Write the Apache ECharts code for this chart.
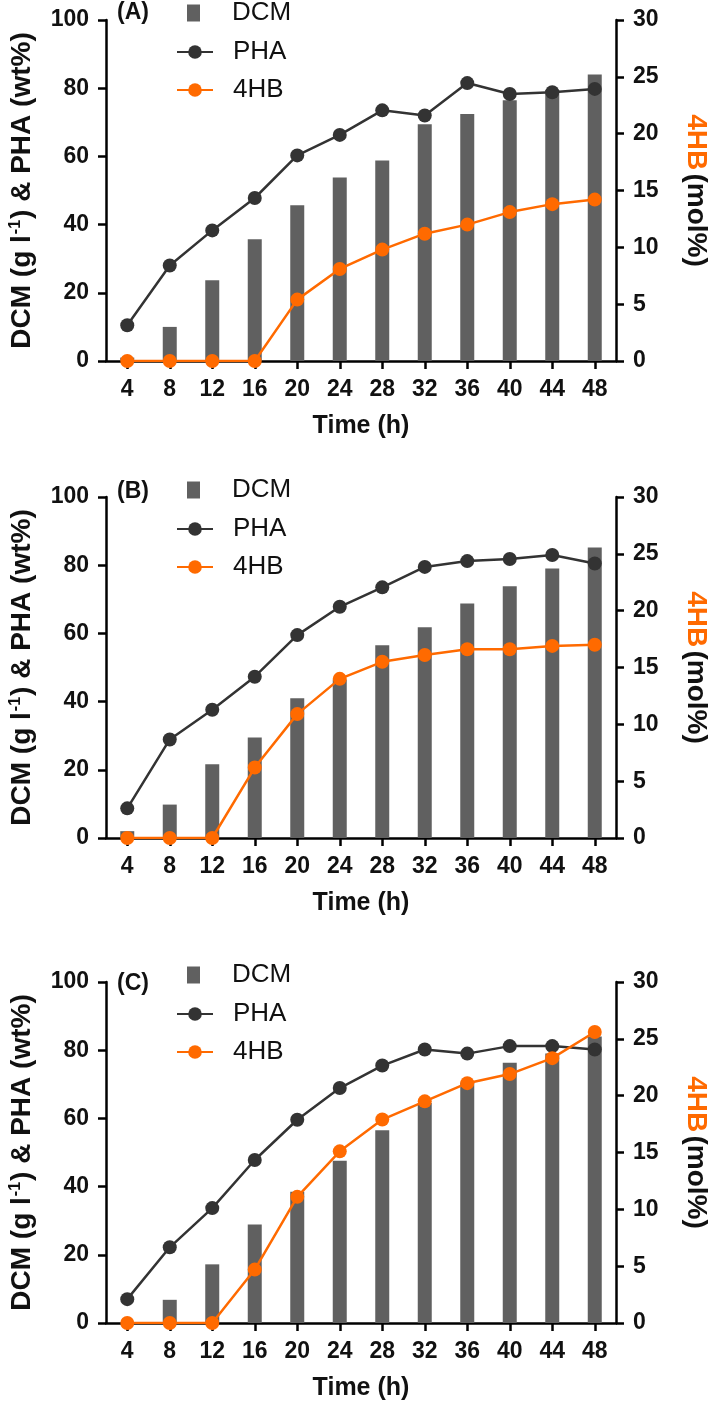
<!DOCTYPE html>
<html><head><meta charset="utf-8">
<script src="https://cdn.jsdelivr.net/npm/echarts@6/dist/echarts.min.js"></script>
<style>html,body{margin:0;padding:0;background:#fff}#c{width:709px;height:1405px}</style>
</head><body><div id="c"></div>
<script>
const categories = ['4','8','12','16','20','24','28','32','36','40','44','48'];
const panelLabels = ['(A)','(B)','(C)'];
const seriesNames = ['DCM','PHA','4HB'];

const dcmA = [1, 10, 23.7, 35.7, 45.7, 53.8, 58.8, 69.4, 72.4, 76.5, 79.5, 84];
const phaA = [10.5, 28, 38.3, 47.8, 60.3, 66.3, 73.5, 72, 81.5, 78.3, 78.8, 79.8];
const hbA  = [0, 0, 0, 0, 5.4, 8.1, 9.8, 11.2, 12, 13.1, 13.8, 14.2];

const dcmB = [2, 9.8, 21.6, 29.5, 41, 46.5, 56.5, 61.8, 68.8, 73.8, 79, 85.2];
const phaB = [8.7, 28.9, 37.6, 47.3, 59.5, 67.8, 73.5, 79.5, 81.2, 81.8, 83, 80.5];
const hbB  = [0, 0, 0, 6.2, 10.9, 14.0, 15.5, 16.1, 16.6, 16.6, 16.9, 17.0];

const dcmC = [0, 6.8, 17.2, 28.9, 38.5, 47.6, 56.5, 64.5, 70.5, 76.3, 79, 84];
const phaC = [7.0, 22.2, 33.7, 47.8, 59.6, 68.9, 75.5, 80.2, 79.0, 81.2, 81.2, 80.2];
const hbC  = [0, 0, 0, 4.7, 11.1, 15.1, 17.9, 19.5, 21.1, 21.9, 23.3, 25.6];

const panels = [
  {dcm: dcmA, pha: phaA, hb: hbA},
  {dcm: dcmB, pha: phaB, hb: hbB},
  {dcm: dcmC, pha: phaC, hb: hbC}
];

const gridTops = [20, 497, 982];
const gridH = 341;
const labelCenters = [12, 491, 983];
const BAR = '#606060', DARK = '#333333', ORANGE = '#ff6a00', INK = '#111111';
const FF = 'Liberation Sans, Arial, sans-serif';

const axisLine = {show: true, lineStyle: {color: '#000', width: 2.5}};
const axisTick = {show: true, length: 8, lineStyle: {color: '#000', width: 2.5}};
const tickFont = {color: INK, fontSize: 23, fontWeight: 'bold', fontFamily: FF};

const option = {
  animation: false,
  backgroundColor: '#fff',
  title: [], grid: [], xAxis: [], yAxis: [], legend: [], series: []
};

panels.forEach((p, i) => {
  const top = gridTops[i];
  option.grid.push({left: 106, width: 510, top: top, height: gridH, containLabel: false, outerBoundsMode: 'none'});
  option.title.push({
    text: panelLabels[i], left: 117, top: labelCenters[i] - 11, padding: 0,
    textStyle: {fontSize: 23, fontWeight: 'bold', color: INK, fontFamily: FF}
  });
  option.xAxis.push({
    type: 'category', gridIndex: i, data: categories,
    axisLine: axisLine, axisTick: Object.assign({alignWithLabel: true}, axisTick),
    axisLabel: Object.assign({margin: 17, interval: 0}, tickFont),
    splitLine: {show: false},
    name: 'Time (h)', nameLocation: 'middle', nameGap: 53,
    nameTextStyle: {fontSize: 25, fontWeight: 'bold', color: INK, fontFamily: FF}
  });
  option.yAxis.push({
    type: 'value', gridIndex: i, min: 0, max: 100, interval: 20, position: 'left',
    axisLine: axisLine, axisTick: axisTick,
    axisLabel: Object.assign({margin: 17}, tickFont),
    splitLine: {show: false},
    name: '{t|DCM (g l}{s|-1}{t|) & PHA (wt%)}', nameLocation: 'middle', nameGap: 70,
    nameTextStyle: {
      fontFamily: FF,
      rich: {
        t: {fontSize: 28, fontWeight: 'bold', color: INK, fontFamily: FF},
        s: {fontSize: 16, fontWeight: 'bold', color: INK, verticalAlign: 'top', padding: [0, 1, 12, 1], fontFamily: FF}
      }
    }
  });
  option.yAxis.push({
    type: 'value', gridIndex: i, min: 0, max: 30, interval: 5, position: 'right',
    axisLine: axisLine, axisTick: axisTick,
    axisLabel: Object.assign({margin: 17}, tickFont),
    splitLine: {show: false},
    name: '{o|4HB} {k|(mol%)}', nameLocation: 'middle', nameGap: 66, nameRotate: -90,
    nameTextStyle: {
      fontFamily: FF,
      rich: {
        o: {fontSize: 28, fontWeight: 'bold', color: ORANGE, fontFamily: FF},
        k: {fontSize: 28, fontWeight: 'bold', color: INK, fontFamily: FF}
      }
    }
  });
  const legText = {fontSize: 26, color: INK, fontFamily: FF};
  option.legend.push({
    data: [{name: seriesNames[0], icon: 'rect'}], left: 187, top: top - 20,
    itemWidth: 13, itemHeight: 17, padding: 0,
    textStyle: Object.assign({padding: [0, 0, 0, 27]}, legText)
  });
  option.legend.push({
    data: [seriesNames[1], seriesNames[2]], orient: 'vertical', left: 176, top: top + 19,
    itemWidth: 36, itemHeight: 17, itemGap: 12, padding: 0,
    textStyle: Object.assign({padding: [0, 0, 0, 15]}, legText)
  });
  option.series.push({
    name: seriesNames[0], type: 'bar', xAxisIndex: i, yAxisIndex: 2 * i,
    data: p.dcm, barWidth: 14, itemStyle: {color: BAR}
  });
  option.series.push({
    name: seriesNames[1], type: 'line', xAxisIndex: i, yAxisIndex: 2 * i,
    data: p.pha, symbol: 'circle', symbolSize: 14,
    itemStyle: {color: DARK}, lineStyle: {color: DARK, width: 2.5}
  });
  option.series.push({
    name: seriesNames[2], type: 'line', xAxisIndex: i, yAxisIndex: 2 * i + 1,
    data: p.hb, symbol: 'circle', symbolSize: 14,
    itemStyle: {color: ORANGE}, lineStyle: {color: ORANGE, width: 2.5}
  });
});

const chart = echarts.init(document.getElementById('c'), null, {renderer: 'canvas'});
chart.setOption(option);
</script>
</body></html>
